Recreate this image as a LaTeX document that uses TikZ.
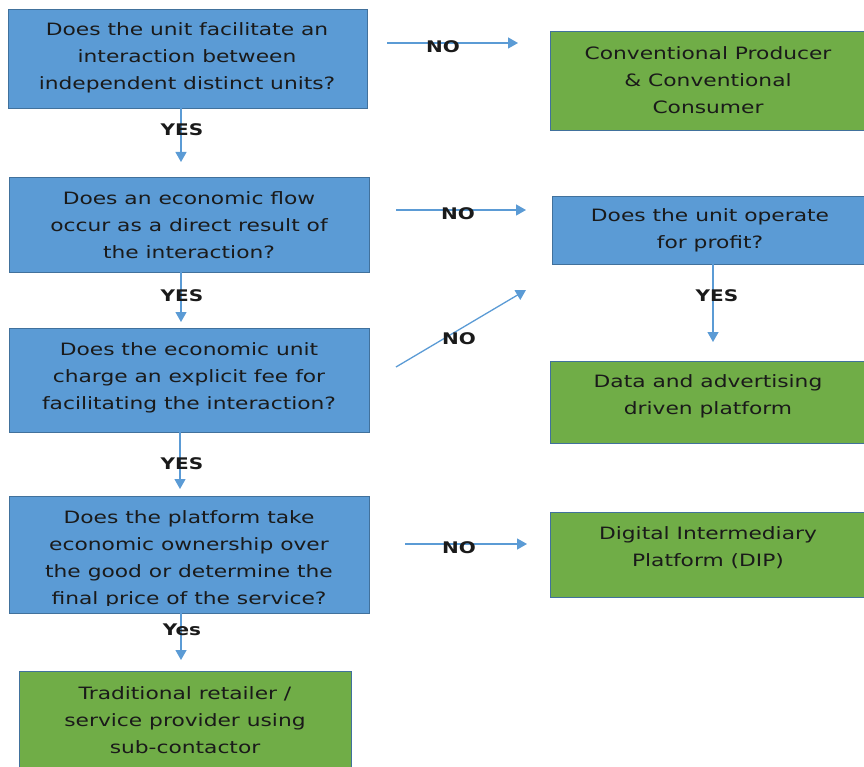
\documentclass[tikz,border=0pt]{standalone}
\usepackage{fontspec}
\setmainfont{DejaVu Sans}
\newfontfamily\widefont[FakeStretch=1.28]{DejaVu Sans}
\newfontfamily\widebold[FakeStretch=1.25]{DejaVu Sans Bold}
\usetikzlibrary{arrows.meta}
\definecolor{qblue}{HTML}{5B9BD5}
\definecolor{rgreen}{HTML}{70AD47}
\definecolor{edgeblue}{HTML}{41719C}
\definecolor{arrowblue}{HTML}{5B9BD5}
\definecolor{txt}{HTML}{1A1A1A}
\tikzset{
  box/.style={draw=edgeblue, line width=1.2pt, inner sep=0pt, anchor=north west},
  question/.style={box, fill=qblue},
  result/.style={box, fill=rgreen},
  boxtext/.style={align=center, font=\widefont\fontsize{17}{27}\selectfont, text=txt, inner sep=0pt},
  lbl/.style={font=\widebold\fontsize{16}{16}\selectfont, text=txt, inner sep=0pt},
  conn/.style={draw=arrowblue, line width=1.3pt, -{Triangle[length=10pt,width=11pt]}},
}
\begin{document}
\begin{tikzpicture}[x=1pt,y=-1pt]
\useasboundingbox (0,0) rectangle (864,767);
% boxes
\node[question, minimum width=359pt, minimum height=99pt] (q1) at (8,9) {};
\node[question, minimum width=360pt, minimum height=95pt] (q2) at (9,177) {};
\node[question, minimum width=360pt, minimum height=104pt] (q3) at (9,328) {};
\node[question, minimum width=360pt, minimum height=117pt] (q4) at (9,496) {};
\node[question, minimum width=314pt, minimum height=68pt] (q5) at (552,196) {};
\node[result, minimum width=316pt, minimum height=99pt] (r1) at (550,31) {};
\node[result, minimum width=316pt, minimum height=82pt] (r2) at (550,361) {};
\node[result, minimum width=316pt, minimum height=85pt] (r3) at (550,512) {};
\node[result, minimum width=332pt, minimum height=100pt] (r4) at (19,671) {};
% texts
\node[boxtext] (q1t) at (187,58) {Does the unit facilitate an\\interaction between\\independent distinct units?};
\node[boxtext] (q2t) at (189,225) {Does an economic flow\\occur as a direct result of\\the interaction?};
\node[boxtext] (q3t) at (189,377.5) {Does the economic unit\\charge an explicit fee for\\facilitating the interaction?};
\begin{scope}
\clip (9,496) rectangle (369,605);
\node[boxtext] (q4t) at (189,559) {Does the platform take\\economic ownership over\\the good or determine the\\final price of the service?};
\end{scope}
\node[boxtext] (q5t) at (710,230.5) {Does the unit operate\\for profit?};
\node[boxtext] (r1t) at (708,80) {Conventional Producer\\\&\ Conventional\\Consumer};
\node[boxtext] (r2t) at (708,396.5) {Data and advertising\\driven platform};
\node[boxtext] (r3t) at (708,548) {Digital Intermediary\\Platform (DIP)};
\node[boxtext] (r4t) at (185,720) {Traditional retailer /\\service provider using\\sub-contactor};
% connector end points
\coordinate (a1s) at (181,108);  \coordinate (a1e) at (181,162);
\coordinate (a2s) at (181,272);  \coordinate (a2e) at (181,322);
\coordinate (a3s) at (180,432);  \coordinate (a3e) at (180,489);
\coordinate (a4s) at (181,613);  \coordinate (a4e) at (181,660);
\coordinate (a5s) at (713,264);  \coordinate (a5e) at (713,342);
\coordinate (n1s) at (387,43);   \coordinate (n1e) at (518,43);
\coordinate (n2s) at (396,210);  \coordinate (n2e) at (526,210);
\coordinate (n3s) at (396,367);  \coordinate (n3e) at (526,290);
\coordinate (n4s) at (405,544);  \coordinate (n4e) at (527,544);
% connectors
\draw[conn] (a1s) -- (a1e);
\draw[conn] (a2s) -- (a2e);
\draw[conn] (a3s) -- (a3e);
\draw[conn] (a4s) -- (a4e);
\draw[conn] (a5s) -- (a5e);
\draw[conn] (n1s) -- (n1e);
\draw[conn] (n2s) -- (n2e);
\draw[conn] (n3s) -- (n3e);
\draw[conn] (n4s) -- (n4e);
% labels
\node[lbl] (y1) at (182,130) {YES};
\node[lbl] (y2) at (182,296) {YES};
\node[lbl] (y3) at (182,464) {YES};
\node[lbl] (y4) at (182,630) {Yes};
\node[lbl] (y5) at (717,296) {YES};
\node[lbl] (no1) at (443,47) {NO};
\node[lbl] (no2) at (458,214) {NO};
\node[lbl] (no3) at (459,339) {NO};
\node[lbl] (no4) at (459,548) {NO};
\end{tikzpicture}
\end{document}
